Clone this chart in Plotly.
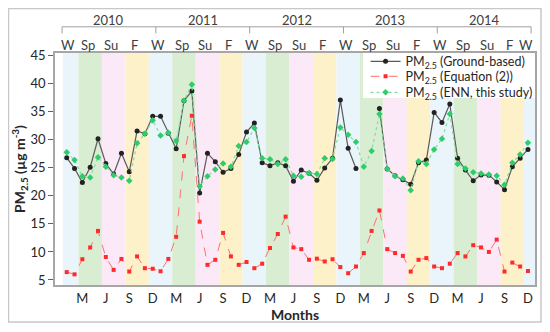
import plotly.graph_objects as go

# ---- data ----
month_index = list(range(60))  # Jan 2010 ... Dec 2014
years = ["2010", "2011", "2012", "2013", "2014"]
season_names = ["W", "Sp", "Su", "F"]
bottom_tick_months = list(range(2, 60, 3))
bottom_tick_text = ["M", "J", "S", "D"] * 5

ground = [26.8, 24.9, 22.4, 25.1, 30.2, 25.8, 23.9, 27.6, 24.3, 31.6, 31.1, 34.2,
          34.2, 31.2, 28.4, 37.0, 38.7, 20.5, 27.6, 26.1, 24.2, 24.9, 27.4, 31.4,
          33.0, 25.9, 25.4, 25.9, 25.4, 22.6, 24.6, 24.05, 22.8, 25.0, 26.7, 37.1,
          28.5, 24.9, None, None, 35.6, 24.8, 23.6, 22.9, 22.1, 25.9, 26.4, 34.9,
          33.1, 36.4, 26.7, 24.6, 22.7, 23.75, 23.7, 22.5, 21.1, 25.2, 26.7, 28.3]

equation2 = [6.4, 6.0, 8.7, 10.8, 13.75, 9.1, 6.8, 8.75, 6.5, 9.2, 7.1, 7.0,
             6.55, 8.75, 12.7, 27.1, 34.3, 15.4, 7.7, 8.6, 13.4, 9.2, 7.7, 8.2,
             7.1, 7.9, 10.7, 13.2, 16.3, 10.8, 10.5, 8.6, 8.8, 8.3, 8.7, 7.3,
             6.2, 7.4, 9.8, 13.75, 17.4, 10.5, 9.8, 9.3, 6.5, 8.6, 8.9, 7.4,
             7.1, 7.9, 9.8, 9.2, 11.2, 10.8, 10.0, 12.2, 6.5, 8.1, 7.4, 6.6]

enn = [27.8, 26.4, 23.5, 23.3, 26.9, 25.2, 23.7, 23.3, 22.7, 29.4, 31.1, 33.5,
       30.8, 31.25, 29.8, 37.0, 39.9, 21.7, 23.5, 24.7, 25.8, 25.2, 28.9, 29.6,
       32.1, 26.7, 26.55, 25.7, 26.55, 23.6, 23.4, 24.1, 23.9, 26.7, 26.6, 32.2,
       30.9, 29.6, 25.2, 28.0, 34.6, 24.8, 23.5, 23.1, 21.0, 26.2, 25.7, 28.3,
       30.2, 34.6, 25.7, 24.9, 24.2, 24.0, 23.8, 23.6, 22.0, 25.9, 27.4, 29.5]

# ---- styling ----
FONT = "Lato"
band_colors = ["#eaf4fb", "#d9edd3", "#fce9f8", "#fdf1c9"]
X_MIN, X_MAX = -1.5, 59.9
Y_MIN, Y_MAX = 4.1, 45.5

fig = go.Figure()

fig.add_trace(go.Scatter(
    x=month_index, y=ground, mode="lines+markers",
    name="PM<sub>2.5</sub> (Ground-based)", legend="legend",
    line=dict(color="#5a5a5a", width=1.2),
    marker=dict(symbol="circle", size=5, color="#222222"),
    connectgaps=False))
fig.add_trace(go.Scatter(
    x=month_index, y=equation2, mode="lines+markers",
    name="PM<sub>2.5</sub> (Equation (2))", legend="legend2",
    line=dict(color="#ff7070", width=1, dash="dash"),
    marker=dict(symbol="square", size=4, color="#ff2a2a")))
fig.add_trace(go.Scatter(
    x=month_index, y=enn, mode="lines+markers",
    name="PM<sub>2.5</sub> (ENN, this study)", legend="legend3",
    line=dict(color="#7ee0a0", width=1.2, dash="dot"),
    marker=dict(symbol="diamond", size=5, color="#2ecc6a")))

# season bands
def season_of(m):
    return ((m % 12) + 1) % 12 // 3

shapes = []
annotations = []
blocks = []
start = month_index[0]
for m in month_index[1:] + [None]:
    if m is None or season_of(m) != season_of(start):
        end = (m if m is not None else month_index[-1] + 1)
        blocks.append((start, end, season_of(start)))
        start = m
for i, (s, e, sidx) in enumerate(blocks):
    x0 = s - 0.5
    x1 = e - 0.5 if i < len(blocks) - 1 else X_MAX
    shapes.append(dict(type="rect", xref="x", yref="paper", x0=x0, x1=x1, y0=0, y1=1,
                       fillcolor=band_colors[sidx], line=dict(width=0), layer="below"))
    cx = (s + e - 1) / 2.0 - 0.3
    annotations.append(dict(x=cx, y=1.034, xref="x", yref="paper", text=season_names[sidx],
                            showarrow=False, font=dict(family=FONT, size=13, color="#404040"),
                            xanchor="center", yanchor="middle"))

# white legend panel
shapes.append(dict(type="rect", xref="paper", yref="paper", x0=0.6417, x1=1.0,
                   y0=0.806, y1=1.0, fillcolor="white", line=dict(width=0), layer="below"))

# year bracket
yb0, yb1 = -0.6, 59.4
shapes.append(dict(type="line", xref="x", yref="paper", x0=yb0, x1=yb1, y0=1.113, y1=1.113,
                   line=dict(color="#a0a0a0", width=1)))
for k in range(len(years) + 1):
    xv = yb0 + 12 * k
    shapes.append(dict(type="line", xref="x", yref="paper", x0=xv, x1=xv, y0=1.113, y1=1.084,
                       line=dict(color="#a0a0a0", width=1)))
for k, yr in enumerate(years):
    annotations.append(dict(x=yb0 + 12 * k + 6, y=1.142, xref="x", yref="paper", text=yr,
                            showarrow=False, font=dict(family=FONT, size=13, color="#404040"),
                            xanchor="center", yanchor="middle"))

# outer border
shapes.append(dict(type="rect", xref="paper", yref="paper", x0=-0.0969, x1=1.0125,
                   y0=-0.1595, y1=1.1918, line=dict(color="#c8c8c8", width=1.5),
                   fillcolor="rgba(0,0,0,0)"))

legend_common = dict(x=0.647, xanchor="left", yanchor="middle", bgcolor="rgba(0,0,0,0)",
                     borderwidth=0, font=dict(family=FONT, size=12.5, color="#262626"),
                     itemwidth=30)

fig.update_layout(
    width=550, height=332,
    margin=dict(l=47, r=23, t=45, b=55),
    paper_bgcolor="white", plot_bgcolor="white",
    font=dict(family=FONT, size=13, color="#262626"),
    shapes=shapes, annotations=annotations,
    showlegend=True,
    legend=dict(y=0.9625, **legend_common),
    legend2=dict(y=0.898, **legend_common),
    legend3=dict(y=0.829, **legend_common),
    xaxis=dict(range=[X_MIN, X_MAX], tickmode="array", tickvals=bottom_tick_months,
               ticktext=bottom_tick_text, ticks="", showgrid=False, zeroline=False,
               showline=True, mirror=True, linecolor="#a6a6a6", linewidth=1.5,
               ticklabelstandoff=1,
               tickfont=dict(family=FONT, size=13, color="#262626"),
               title=dict(text="<b>Months</b>", standoff=0,
                          font=dict(family=FONT, size=14, color="#262626"))),
    yaxis=dict(range=[Y_MIN, Y_MAX], tickmode="array", tickvals=list(range(5, 50, 5)),
               ticks="outside", ticklen=5, tickcolor="#606060", showgrid=False,
               zeroline=False, showline=True, mirror=True, linecolor="#a6a6a6",
               linewidth=1.5, tickfont=dict(family=FONT, size=13, color="#262626"),
               title=dict(text="<b>PM<sub>2.5</sub> (µg m<sup>-3</sup>)</b>", standoff=2,
                          font=dict(family=FONT, size=14, color="#262626"))),
)

fig.write_html("out.html")
